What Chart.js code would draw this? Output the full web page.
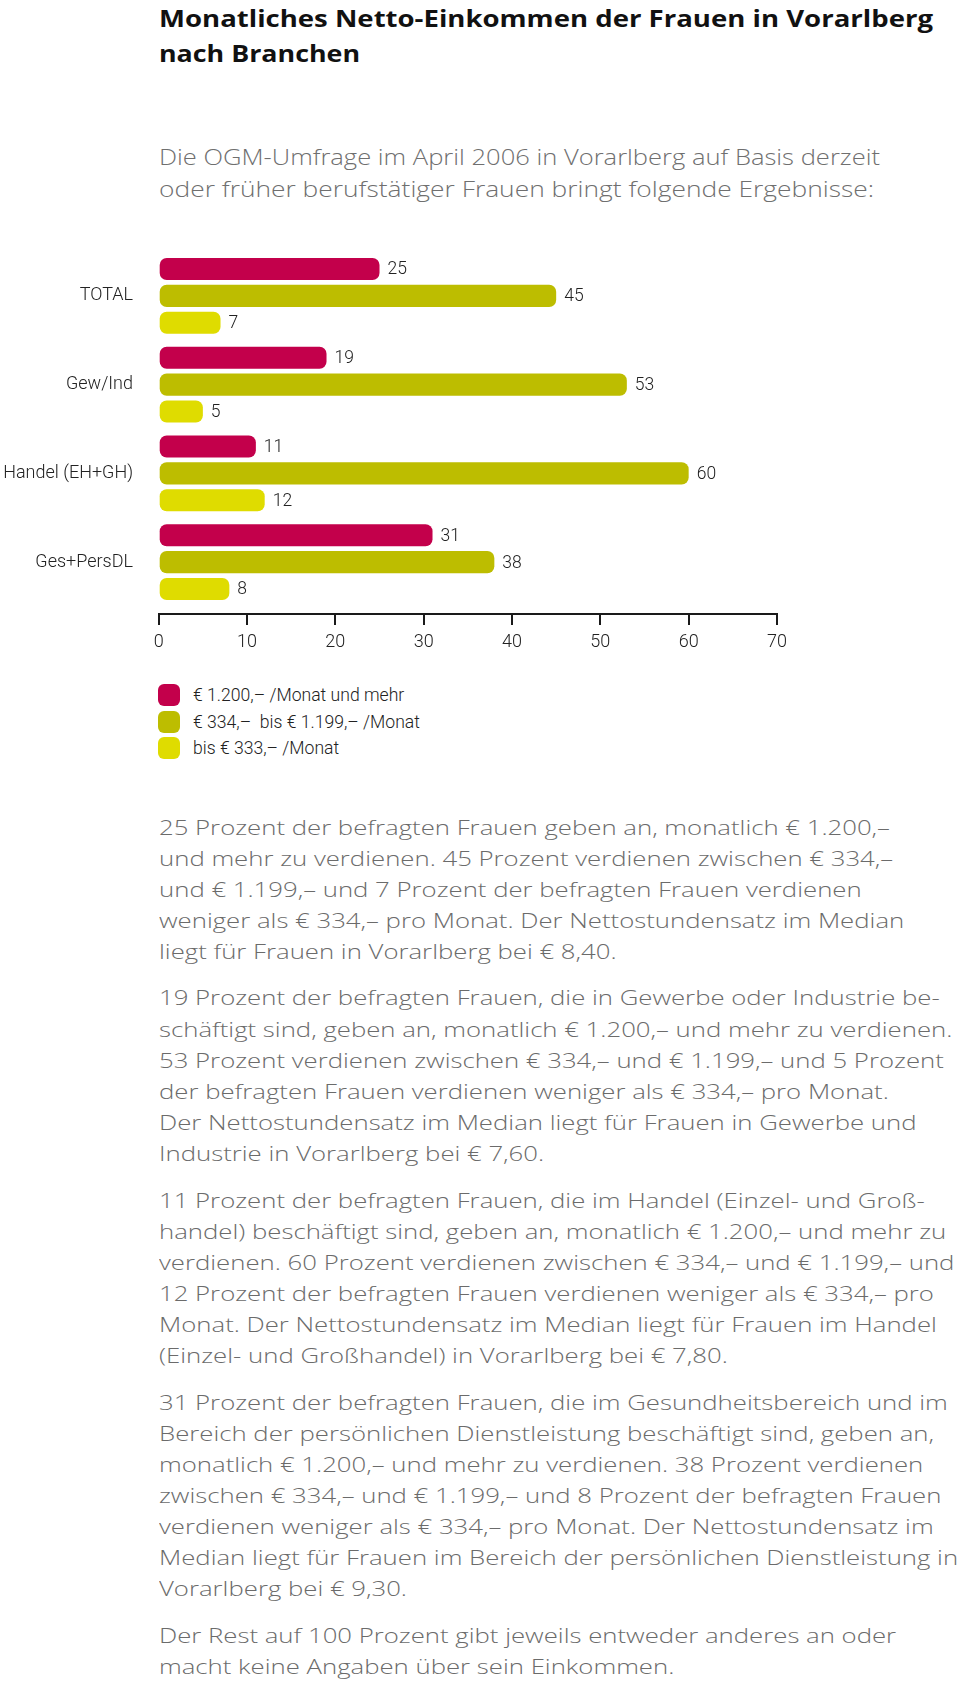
<!DOCTYPE html>
<html lang="de">
<head>
<meta charset="UTF-8">
<title>Monatliches Netto-Einkommen der Frauen in Vorarlberg nach Branchen</title>
<script src="https://cdn.jsdelivr.net/npm/chart.js"></script>
<style>
  body { margin: 0; width: 960px; height: 1681px; position: relative; overflow: hidden; background: #fff;
         font-family: "Open Sans", "Noto Sans", sans-serif; }
  .fit { display: inline-block; transform-origin: 0 50%; white-space: nowrap; }
  #title { position: absolute; left: 159px; top: 0; font-weight: 700; font-size: 24px; line-height: 35px; color: #111; }
  #sub { position: absolute; left: 159px; top: 140px; font-weight: 300; font-size: 22px; line-height: 32px; color: #6f6f6f; }
  #chartBox { position: absolute; left: 0; top: 230px; width: 960px; height: 450px; }
  #legend { position: absolute; left: 158px; top: 681.75px; font-family: Roboto, sans-serif; font-weight: 300;
            font-size: 17.6px; color: #222; }
  .item { height: 26.5px; display: flex; align-items: center; white-space: pre; }
  .sw { width: 22px; height: 22px; border-radius: 6px; margin-right: 13px; }
  #text { position: absolute; left: 159px; top: 811.5px; font-weight: 300; font-size: 21px; line-height: 31.1px;
          color: #6b6b6b; white-space: nowrap; transform-origin: 0 0; }
  #text p { margin: 0 0 15.5px 0; }
</style>
</head>
<body>

<div id="title">
  <span class="fit" data-w="774">Monatliches Netto-Einkommen der Frauen in Vorarlberg</span><br>
  <span class="fit" data-w="201">nach Branchen</span>
</div>

<div id="sub">
  <span class="fit" data-w="721">Die OGM-Umfrage im April 2006 in Vorarlberg auf Basis derzeit</span><br>
  <span class="fit" data-w="715">oder früher berufstätiger Frauen bringt folgende Ergebnisse:</span>
</div>

<div id="chartBox"><canvas id="bars" width="960" height="450"></canvas></div>

<div id="legend"></div>

<div id="text">
  <p><span id="refLine">25 Prozent der befragten Frauen geben an, monatlich € 1.200,–</span><br>
  und mehr zu verdienen. 45 Prozent verdienen zwischen € 334,–<br>
  und € 1.199,– und 7 Prozent der befragten Frauen verdienen<br>
  weniger als € 334,– pro Monat. Der Nettostundensatz im Median<br>
  liegt für Frauen in Vorarlberg bei € 8,40.</p>
  <p>19 Prozent der befragten Frauen, die in Gewerbe oder Industrie be-<br>
  schäftigt sind, geben an, monatlich € 1.200,– und mehr zu verdienen.<br>
  53 Prozent verdienen zwischen € 334,– und € 1.199,– und 5 Prozent<br>
  der befragten Frauen verdienen weniger als € 334,– pro Monat.<br>
  Der Nettostundensatz im Median liegt für Frauen in Gewerbe und<br>
  Industrie in Vorarlberg bei € 7,60.</p>
  <p>11 Prozent der befragten Frauen, die im Handel (Einzel- und Groß-<br>
  handel) beschäftigt sind, geben an, monatlich € 1.200,– und mehr zu<br>
  verdienen. 60 Prozent verdienen zwischen € 334,– und € 1.199,– und<br>
  12 Prozent der befragten Frauen verdienen weniger als € 334,– pro<br>
  Monat. Der Nettostundensatz im Median liegt für Frauen im Handel<br>
  (Einzel- und Großhandel) in Vorarlberg bei € 7,80.</p>
  <p>31 Prozent der befragten Frauen, die im Gesundheitsbereich und im<br>
  Bereich der persönlichen Dienstleistung beschäftigt sind, geben an,<br>
  monatlich € 1.200,– und mehr zu verdienen. 38 Prozent verdienen<br>
  zwischen € 334,– und € 1.199,– und 8 Prozent der befragten Frauen<br>
  verdienen weniger als € 334,– pro Monat. Der Nettostundensatz im<br>
  Median liegt für Frauen im Bereich der persönlichen Dienstleistung in<br>
  Vorarlberg bei € 9,30.</p>
  <p>Der Rest auf 100 Prozent gibt jeweils entweder anderes an oder<br>
  macht keine Angaben über sein Einkommen.</p>
</div>

<script>
    // Branchen (y axis)
    const categories = ['TOTAL', 'Gew/Ind', 'Handel (EH+GH)', 'Ges+PersDL'];

    // Einkommensklassen
    const seriesLabels = ['€ 1.200,– /Monat und mehr', '€ 334,–  bis € 1.199,– /Monat', 'bis € 333,– /Monat'];
    const seriesColors = ['#c3004b', '#bdbd00', '#dfdc00'];

    // Prozent je Branche
    const high = [25, 19, 11, 31];
    const middle = [45, 53, 60, 38];
    const low = [7, 5, 12, 8];

    // x axis
    const xMin = 0;
    const xMax = 70;
    const xStep = 10;

    const chartFont = 'Roboto, sans-serif';

    // squeeze title/subtitle lines to the widths of the original
    document.querySelectorAll('.fit').forEach(el => {
        const w = el.getBoundingClientRect().width;
        el.style.transform = 'scaleX(' + (el.dataset.w / w) + ')';
    });
    const ref = document.getElementById('refLine').getBoundingClientRect().width;
    document.getElementById('text').style.transform = 'scaleX(' + (731 / ref) + ')';

    // legend built from the same series
    const legend = document.getElementById('legend');
    seriesLabels.forEach((label, i) => {
        const item = document.createElement('div');
        item.className = 'item';
        const sw = document.createElement('span');
        sw.className = 'sw';
        sw.style.background = seriesColors[i];
        item.appendChild(sw);
        item.appendChild(document.createTextNode(label));
        legend.appendChild(item);
    });

    // numbers right of each bar
    const valueLabels = {
        id: 'valueLabels',
        afterDatasetsDraw(chart) {
            const ctx = chart.ctx;
            ctx.save();
            ctx.font = '300 17.5px ' + chartFont;
            ctx.fillStyle = '#222';
            ctx.textAlign = 'left';
            ctx.textBaseline = 'middle';
            chart.data.datasets.forEach((ds, i) => {
                chart.getDatasetMeta(i).data.forEach((bar, j) => {
                    ctx.fillText(ds.data[j], bar.x + 8, bar.y + 1);
                });
            });
            ctx.restore();
        }
    };

    // no label overhang, so the plot area is exactly the padding box
    const noOverhang = (scale) => {
        scale.paddingTop = 0;
        scale.paddingBottom = 0;
    };

    const series = [high, middle, low];

    new Chart(document.getElementById('bars'), {
        type: 'bar',
        data: {
            labels: categories,
            datasets: series.map((data, i) => ({
                label: seriesLabels[i],
                data: data,
                backgroundColor: seriesColors[i],
                borderRadius: 7,
                borderSkipped: false,
                categoryPercentage: 0.909,
                barPercentage: 0.825
            }))
        },
        options: {
            indexAxis: 'y',
            responsive: false,
            animation: false,
            layout: { padding: { top: 21.5, right: 183, bottom: 73.5, left: 0 } },
            plugins: {
                legend: { display: false },
                tooltip: { enabled: false }
            },
            scales: {
                x: {
                    min: xMin,
                    max: xMax,
                    position: { y: 3.58 },
                    afterFit: noOverhang,
                    ticks: { stepSize: xStep, padding: 8, color: '#222',
                             font: { family: chartFont, size: 18, weight: '300' } },
                    grid: { drawOnChartArea: false, drawTicks: true, tickLength: 10, color: '#1a1a1a', lineWidth: 2 },
                    border: { display: true, color: '#1a1a1a', width: 2 }
                },
                y: {
                    afterFit: (scale) => { scale.width = 158.7; noOverhang(scale); },
                    ticks: { padding: 25.7, color: '#222',
                             font: { family: chartFont, size: 18, weight: '300' } },
                    grid: { display: false, drawTicks: false },
                    border: { display: false }
                }
            }
        },
        plugins: [valueLabels]
    });
</script>

</body>
</html>
